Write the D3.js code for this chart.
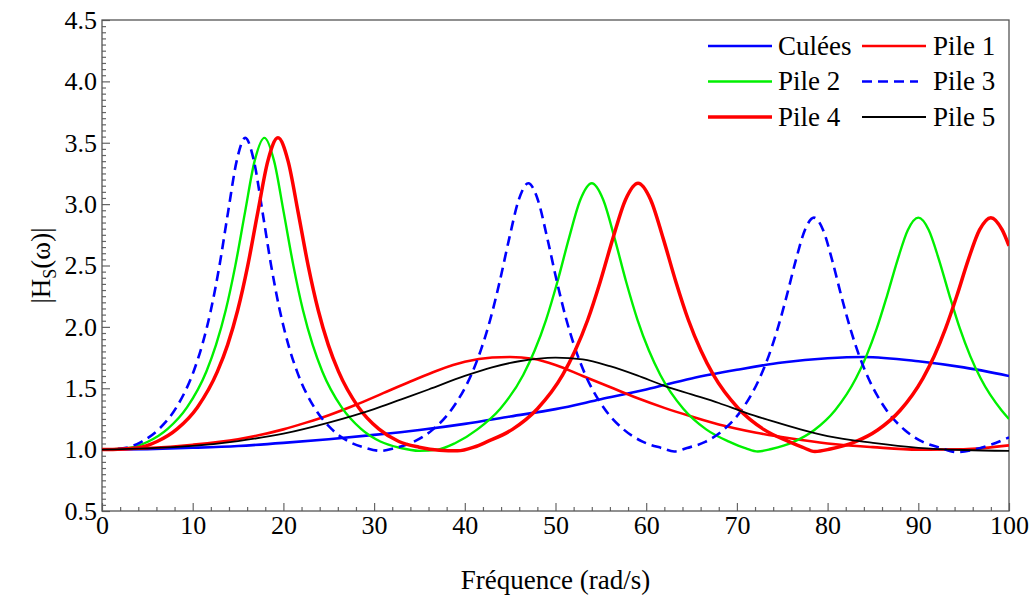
<!DOCTYPE html>
<html>
<head>
<meta charset="utf-8">
<script src="https://cdn.jsdelivr.net/npm/d3@7"></script>
<style>
  body { margin: 0; background: #fff; }
  svg text { font-family: "Liberation Serif", "Tinos", "Times New Roman", "DejaVu Serif", serif; fill: #000; }
</style>
</head>
<body>
<div id="chart-area"></div>
<script>
// Data: [frequency (rad/s), |Hs(w)|]
const culees = [[0,1.0],[5,1.004],[10,1.015],[15,1.03],[20,1.055],[25,1.085],[30,1.12],[35,1.16],[40,1.21],[45,1.27],
  [50,1.33],[55,1.41],[60,1.49],[65,1.58],[70,1.65],[75,1.71],[80,1.745],[84,1.755],[90,1.72],[95,1.67],[100,1.6]];

const pile1 = [[0,1.0],[5,1.012],[10,1.04],[15,1.085],[20,1.165],[22.5,1.22],[25,1.28],[28,1.365],[31,1.46],[34,1.555],
  [37,1.645],[40,1.715],[43,1.75],[45,1.755],[47.5,1.74],[50,1.69],[53,1.60],[56,1.51],[59,1.42],[62,1.34],
  [65,1.27],[68,1.205],[72,1.14],[76,1.09],[80,1.05],[85,1.02],[90,1.0],[95,1.003],[100,1.035]];

const pile2 = [[0,1.0],[2.98,1.014],[5.11,1.066],[7.24,1.169],[9.37,1.344],[11.51,1.637],[12.57,1.853],[13.64,2.135],
  [14.7,2.499],[15.77,2.935],[16.83,3.352],[17.9,3.54],[18.97,3.352],[20.03,2.935],[21.1,2.499],[22.16,2.135],
  [23.23,1.853],[24.29,1.637],[26.43,1.344],[28.56,1.169],[30.69,1.066],[32.82,1.015],[35.0,0.99],[37.0,1.0],
  [38.87,1.05],[41.39,1.165],[43.91,1.333],[46.44,1.608],[47.7,1.807],[48.96,2.058],[50.22,2.37],[51.48,2.721],
  [52.74,3.036],[54.0,3.17],[55.26,3.036],[56.52,2.721],[57.78,2.37],[59.04,2.058],[60.3,1.807],[61.56,1.608],
  [64.09,1.333],[66.61,1.165],[69.13,1.065],[71.0,1.01],[72.3,0.985],[73.8,1.005],[76.25,1.063],[78.54,1.16],
  [80.83,1.321],[83.13,1.581],[84.27,1.762],[85.42,1.987],[86.56,2.255],[87.71,2.544],[88.85,2.79],[90.0,2.89],
  [91.15,2.79],[92.29,2.544],[93.44,2.255],[94.58,1.987],[95.73,1.762],[96.87,1.581],[99.17,1.321],[100,1.25]];

const pile3 = [[0,1.0],[2.5,1.013],[4.4,1.066],[6.3,1.169],[8.2,1.344],[10.1,1.637],[11.05,1.853],[12.0,2.135],
  [12.95,2.499],[13.9,2.935],[14.85,3.352],[15.8,3.54],[16.75,3.352],[17.7,2.935],[18.65,2.499],[19.6,2.135],
  [20.55,1.853],[21.5,1.637],[23.4,1.344],[25.3,1.169],[27.2,1.066],[29.1,1.013],[30.7,0.99],[32.3,1.013],
  [34.4,1.065],[36.5,1.165],[38.6,1.333],[40.7,1.608],[41.75,1.807],[42.8,2.058],[43.85,2.37],[44.9,2.721],
  [45.95,3.036],[47.0,3.17],[48.05,3.036],[49.1,2.721],[50.15,2.37],[51.2,2.058],[52.25,1.807],[53.3,1.608],
  [55.4,1.333],[57.5,1.165],[59.6,1.065],[61.7,1.013],[63.1,0.985],[64.5,1.013],[66.5,1.063],[68.5,1.16],
  [70.5,1.321],[72.5,1.581],[73.5,1.762],[74.5,1.987],[75.5,2.255],[76.5,2.544],[77.5,2.79],[78.5,2.89],
  [79.5,2.79],[80.5,2.544],[81.5,2.255],[82.5,1.987],[83.5,1.762],[84.5,1.581],[86.5,1.321],[88.5,1.16],
  [90.5,1.063],[92.5,1.013],[94.3,0.98],[96.1,1.0],[98,1.04],[100,1.1]];

const pile4 = [[0,1.0],[3.84,1.014],[6.07,1.066],[8.29,1.169],[10.51,1.344],[12.73,1.637],[13.85,1.853],[14.96,2.135],
  [16.07,2.499],[17.18,2.935],[18.29,3.352],[19.4,3.54],[20.51,3.352],[21.62,2.935],[22.73,2.499],[23.84,2.135],
  [24.95,1.853],[26.07,1.637],[28.29,1.344],[30.51,1.169],[32.73,1.066],[34.96,1.02],[37.2,0.995],[39.2,0.99],
  [41.0,1.02],[42.47,1.065],[45.25,1.165],[48.01,1.333],[50.79,1.608],[52.17,1.807],[53.56,2.058],[54.94,2.37],
  [56.33,2.721],[57.72,3.036],[59.1,3.17],[60.49,3.036],[61.87,2.721],[63.26,2.37],[64.64,2.058],[66.03,1.807],
  [67.41,1.608],[70.19,1.333],[72.95,1.165],[75.73,1.065],[77.2,1.02],[78.6,0.985],[80.3,1.005],[83.02,1.063],
  [85.52,1.16],[88.01,1.321],[90.51,1.581],[91.76,1.762],[93.01,1.987],[94.26,2.255],[95.5,2.544],[96.75,2.79],
  [98.0,2.89],[99.25,2.79],[100,2.66]];

const pile5 = [[0,1.0],[5,1.01],[10,1.03],[15,1.07],[20,1.13],[25,1.22],[30,1.33],[33,1.41],[36,1.49],[40,1.6],
  [43,1.67],[46,1.72],[50,1.75],[53,1.735],[56,1.68],[59,1.605],[62,1.52],[65,1.45],[68,1.38],[71,1.30],
  [74,1.23],[77,1.165],[80,1.11],[85,1.055],[90,1.015],[95,0.997],[100,0.99]];

const seriesNames = ["Culées", "Pile 1", "Pile 2", "Pile 3", "Pile 4", "Pile 5"];
const seriesData = [culees, pile1, pile2, pile3, pile4, pile5];

const xTicks = [0, 10, 20, 30, 40, 50, 60, 70, 80, 90, 100];
const yTicks = [0.5, 1.0, 1.5, 2.0, 2.5, 3.0, 3.5, 4.0, 4.5];

// Styles per series (same order as seriesNames)
const styles = [
  { color: "#0000ff", width: 2.6, dash: null },
  { color: "#ff0000", width: 2.6, dash: null },
  { color: "#00f000", width: 2.4, dash: null },
  { color: "#0000ff", width: 2.6, dash: "10,6" },
  { color: "#ff0000", width: 3.5, dash: null },
  { color: "#000000", width: 1.8, dash: null }
];

const serif = "'Liberation Serif', 'Tinos', 'Times New Roman', 'DejaVu Serif', serif";

// Dimensions
const margin = { left: 102, right: 26, top: 20, bottom: 88 };
const width = 1035 - margin.left - margin.right;
const height = 599 - margin.top - margin.bottom;

const svg = d3.select("#chart-area")
  .append("svg")
    .attr("width", 1035)
    .attr("height", 599)
    .style("font-family", serif);

const chart = svg.append("g")
  .attr("transform", "translate(" + margin.left + "," + margin.top + ")");

// Scales
const xScale = d3.scaleLinear().domain([0, 100]).range([0, width]);
const yScale = d3.scaleLinear().domain([0.5, 4.5]).range([height, 0]);

// clip to plot area
svg.append("defs").append("clipPath").attr("id", "plot-clip")
  .append("rect").attr("width", width).attr("height", height);

// Minor ticks (inward)
const xMinor = d3.range(0, 101, 2).filter(v => v % 10 !== 0);
const yMinor = d3.range(10, 91, 1).map(v => v / 20).filter(v => Math.abs(v * 2 - Math.round(v * 2)) > 1e-6);

chart.append("g")
  .attr("class", "x minor")
  .attr("transform", "translate(0," + height + ")")
  .call(d3.axisBottom(xScale).tickValues(xMinor).tickSize(-4).tickFormat(""));
chart.append("g")
  .attr("class", "y minor")
  .call(d3.axisLeft(yScale).tickValues(yMinor).tickSize(-4).tickFormat(""));

// Major axes
chart.append("g")
  .attr("class", "x axis")
  .attr("transform", "translate(0," + height + ")")
  .call(d3.axisBottom(xScale).tickValues(xTicks).tickSize(-8).tickPadding(5).tickFormat(d3.format("d")));
chart.append("g")
  .attr("class", "y axis")
  .call(d3.axisLeft(yScale).tickValues(yTicks).tickSize(-8).tickPadding(5).tickFormat(d3.format(".1f")));

chart.selectAll(".axis, .minor").attr("font-family", null).selectAll(".domain").remove();
chart.selectAll(".axis line, .minor line").attr("stroke", "#666").attr("stroke-width", 1.2);
chart.selectAll(".axis text")
  .attr("font-size", "26px")
  .attr("fill", "#000");

// Frame
chart.append("rect")
  .attr("width", width)
  .attr("height", height)
  .attr("fill", "none")
  .attr("stroke", "#555")
  .attr("stroke-width", 1.3);

// Curves
const line = d3.line()
  .x(d => xScale(d[0]))
  .y(d => yScale(d[1]))
  .curve(d3.curveMonotoneX);

const curves = chart.append("g").attr("clip-path", "url(#plot-clip)");
seriesData.forEach((data, i) => {
  curves.append("path")
    .datum(data)
    .attr("fill", "none")
    .attr("stroke", styles[i].color)
    .attr("stroke-width", styles[i].width)
    .attr("stroke-dasharray", styles[i].dash)
    .attr("stroke-linejoin", "round")
    .attr("d", line);
});

// Legend (2 columns x 3 rows)
const legend = svg.append("g");
seriesNames.forEach((name, i) => {
  const col = i % 2, row = Math.floor(i / 2);
  const lx = col === 0 ? 708 : 862;
  const ly = 46 + row * 35.5;
  legend.append("line")
    .attr("x1", lx).attr("x2", lx + (styles[i].dash ? 56 : 64))
    .attr("y1", ly).attr("y2", ly)
    .attr("stroke", styles[i].color)
    .attr("stroke-width", styles[i].width)
    .attr("stroke-dasharray", styles[i].dash);
  legend.append("text")
    .attr("x", col === 0 ? 778 : 933)
    .attr("y", ly)
    .attr("dy", "0.33em")
    .attr("font-size", "27px")
    .text(name);
});

// Axis titles
svg.append("text")
  .attr("x", margin.left + width / 2)
  .attr("y", 589)
  .attr("text-anchor", "middle")
  .attr("font-size", "27px")
  .text("Fréquence (rad/s)");

const yTitle = svg.append("text")
  .attr("transform", "translate(50," + (margin.top + height / 2) + ") rotate(-90)")
  .attr("text-anchor", "middle")
  .attr("font-size", "27px");
yTitle.append("tspan").text("|H");
yTitle.append("tspan").attr("font-size", "18px").attr("dy", "6").text("S");
yTitle.append("tspan").attr("dy", "-6").text("(ω)|");
</script>
</body>
</html>
